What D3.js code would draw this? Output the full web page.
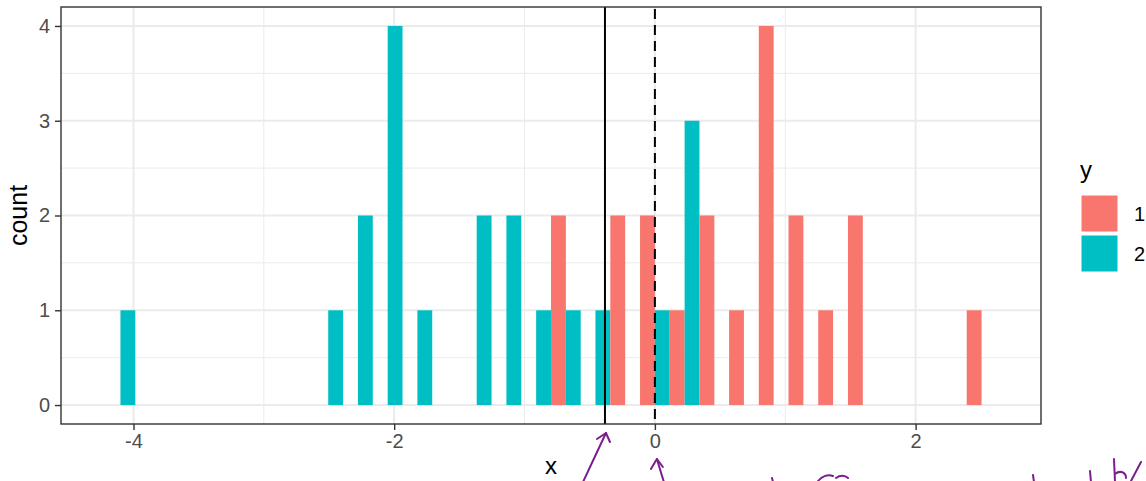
<!DOCTYPE html>
<html>
<head>
<meta charset="utf-8">
<script src="https://cdn.jsdelivr.net/npm/d3@7"></script>
<style>
  body { margin: 0; background: #fff; }
  svg { display: block; font-family: "Liberation Sans", Arial, sans-serif; }
</style>
</head>
<body>
<div id="chart"></div>
<script>
// bin centres of the histogram (30 bins, width ~0.228)
const binCenters = [-4.100, -3.873, -3.645, -3.417, -3.189, -2.961, -2.734, -2.506, -2.278, -2.050,
  -1.822, -1.595, -1.367, -1.139, -0.911, -0.683, -0.456, -0.228, 0, 0.228,
  0.456, 0.683, 0.911, 1.139, 1.367, 1.595, 1.822, 2.050, 2.278, 2.506];
const binWidth = 0.2278;
const groups = ["1", "2"];
const counts1 = [0,0,0,0,0,0,0,0,0,0, 0,0,0,0,0,2,0,2,2,1, 2,1,4,2,1,2,0,0,0,1];
const counts2 = [1,0,0,0,0,0,0,1,2,4, 1,0,2,2,1,1,1,0,1,3, 0,0,0,0,0,0,0,0,0,0];
const groupColors = ["#F8766D", "#00BFC4"];
const xTicks = [-4, -2, 0, 2];
const xMinor = [-3, -1, 1];
const yTicks = [0, 1, 2, 3, 4];
const yMinor = [0.5, 1.5, 2.5, 3.5];
const meanLine = -0.383;   // solid vertical line
const refLine = 0;         // dashed vertical line

const W = 1146, H = 481;
const panel = { left: 61, right: 1041, top: 7, bottom: 424 };

const svg = d3.select("#chart").append("svg")
  .attr("width", W).attr("height", H);

const x = d3.scaleLinear().domain([-4.556, 2.962]).range([panel.left, panel.right]);
const y = d3.scaleLinear().domain([-0.2, 4.2]).range([panel.bottom, panel.top]);

// grid
const grid = svg.append("g");
grid.selectAll(".xminor").data(xMinor).enter().append("line")
  .attr("x1", d => x(d)).attr("x2", d => x(d))
  .attr("y1", panel.top).attr("y2", panel.bottom)
  .attr("stroke", "#EBEBEB").attr("stroke-width", 1);
grid.selectAll(".yminor").data(yMinor).enter().append("line")
  .attr("x1", panel.left).attr("x2", panel.right)
  .attr("y1", d => y(d)).attr("y2", d => y(d))
  .attr("stroke", "#EBEBEB").attr("stroke-width", 1);
grid.selectAll(".xmajor").data(xTicks).enter().append("line")
  .attr("x1", d => x(d)).attr("x2", d => x(d))
  .attr("y1", panel.top).attr("y2", panel.bottom)
  .attr("stroke", "#EBEBEB").attr("stroke-width", 2);
grid.selectAll(".ymajor").data(yTicks).enter().append("line")
  .attr("x1", panel.left).attr("x2", panel.right)
  .attr("y1", d => y(d)).attr("y2", d => y(d))
  .attr("stroke", "#EBEBEB").attr("stroke-width", 2);

// bars, dodged within each bin
const bars = [];
binCenters.forEach((c, i) => {
  bars.push({ x0: c - binWidth / 2, x1: c, n: counts1[i], g: 0 });
  bars.push({ x0: c, x1: c + binWidth / 2, n: counts2[i], g: 1 });
});
svg.append("g").selectAll("rect")
  .data(bars.filter(d => d.n > 0))
  .enter()
  .append("rect")
  .attr("x", d => x(d.x0))
  .attr("width", d => x(d.x1) - x(d.x0))
  .attr("y", d => y(d.n))
  .attr("height", d => y(0) - y(d.n))
  .style("fill", d => groupColors[d.g]);

// vertical lines
svg.append("line")
  .attr("x1", x(meanLine)).attr("x2", x(meanLine))
  .attr("y1", panel.top).attr("y2", panel.bottom)
  .attr("stroke", "#000").attr("stroke-width", 2);
svg.append("line")
  .attr("x1", x(refLine)).attr("x2", x(refLine))
  .attr("y1", panel.top).attr("y2", panel.bottom)
  .attr("stroke", "#000").attr("stroke-width", 2)
  .attr("stroke-dasharray", "10,6")
  .attr("stroke-dashoffset", -2);

// panel border
svg.append("rect")
  .attr("x", panel.left).attr("y", panel.top)
  .attr("width", panel.right - panel.left).attr("height", panel.bottom - panel.top)
  .attr("fill", "none").attr("stroke", "#333333").attr("stroke-width", 1.4);

// axes
const xAxis = svg.append("g")
  .attr("transform", "translate(0," + panel.bottom + ")")
  .call(d3.axisBottom(x).tickValues(xTicks).tickSize(6).tickPadding(4).tickFormat(d3.format("d")));
const yAxis = svg.append("g")
  .attr("transform", "translate(" + panel.left + ",0)")
  .call(d3.axisLeft(y).tickValues(yTicks).tickSize(6).tickPadding(5).tickFormat(d3.format("d")));
[xAxis, yAxis].forEach(a => {
  a.select(".domain").remove();
  a.selectAll(".tick line").attr("stroke", "#333333").attr("stroke-width", 1.4);
  a.selectAll(".tick text").attr("fill", "#4D4D4D").style("font-size", "20px")
    .style("font-family", "Liberation Sans, Arial, sans-serif");
});
xAxis.selectAll(".tick text").text(d => d < 0 ? "-" + Math.abs(d) : d);

// axis titles
svg.append("text")
  .attr("x", (panel.left + panel.right) / 2).attr("y", 474)
  .attr("text-anchor", "middle").style("font-size", "24px").text("x");
svg.append("text")
  .attr("transform", "translate(27," + (panel.top + panel.bottom) / 2 + ") rotate(-90)")
  .attr("text-anchor", "middle").style("font-size", "25px").text("count");

// legend
const legend = svg.append("g").attr("transform", "translate(1081,0)");
legend.append("text").attr("x", -1).attr("y", 178).style("font-size", "24px").text("y");
groups.forEach((g, i) => {
  legend.append("rect")
    .attr("x", 0).attr("y", 195 + i * 40)
    .attr("width", 37).attr("height", 37)
    .attr("fill", groupColors[i]).attr("stroke", "#fff").attr("stroke-width", 1);
  legend.append("text")
    .attr("x", 53).attr("y", 213.5 + i * 40).attr("dy", "0.35em")
    .style("font-size", "20px").text(g);
});

// hand-drawn annotations
const ink = svg.append("g").attr("fill", "none").attr("stroke", "#7B1E8E")
  .attr("stroke-width", 2).attr("stroke-linecap", "round").attr("stroke-linejoin", "round");
const t1 = [x(meanLine) + 1, 433];
ink.append("path").attr("d", `M583,482 L${t1[0]},${t1[1]}`);
ink.append("path").attr("d", `M${t1[0] - 9},${t1[1] + 6} L${t1[0]},${t1[1]} L${t1[0] + 4},${t1[1] + 9}`);
const t2 = [x(refLine) + 2, 459];
ink.append("path").attr("d", `M${t2[0] + 7},482 L${t2[0]},${t2[1]}`);
ink.append("path").attr("d", `M${t2[0] - 6},${t2[1] + 10} L${t2[0]},${t2[1]} L${t2[0] + 6},${t2[1] + 8}`);
ink.append("path").attr("d", "M772,478 L773,482");
ink.append("path").attr("d", "M818,481 C822,476 828,474 833,476 M836,478 C840,475 845,475 848,478");
ink.append("path").attr("d", "M1033,475 L1034,482");
ink.append("path").attr("d", "M1090,471 L1091,482");
ink.append("path").attr("d", "M1114,459 L1115,482 M1115,474 C1120,470 1126,472 1126,478");
ink.append("path").attr("d", "M1131,481 L1141,462");
</script>
</body>
</html>
